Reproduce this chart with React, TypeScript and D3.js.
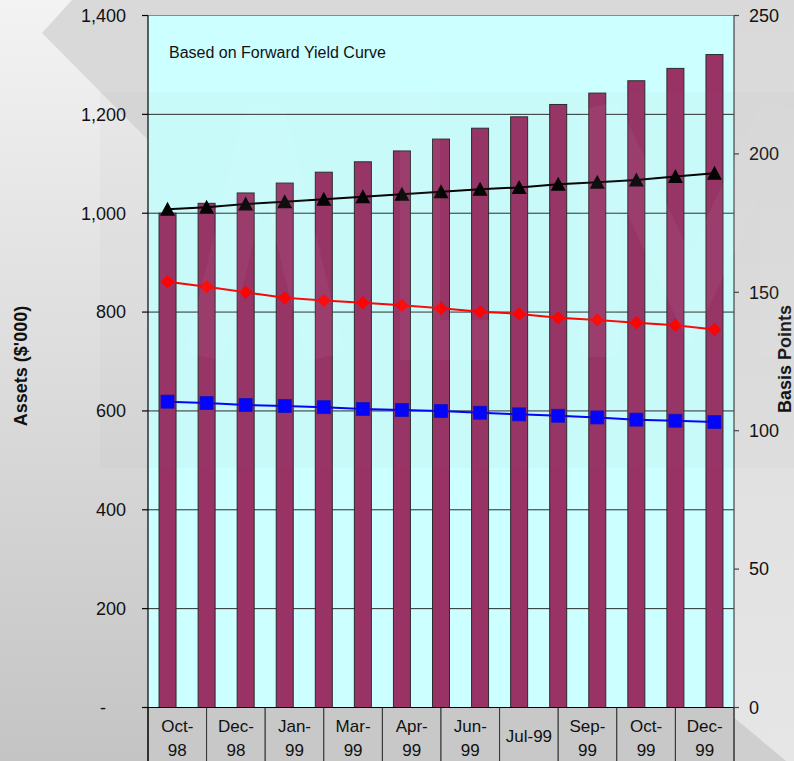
import React from "react";
import * as d3 from "d3";

// Monthly projection, Oct-98 to Dec-99
const months = [
  "Oct-98", "Nov-98", "Dec-98", "Jan-99", "Feb-99", "Mar-99", "Apr-99", "May-99",
  "Jun-99", "Jul-99", "Aug-99", "Sep-99", "Oct-99", "Nov-99", "Dec-99",
];
// Assets ($'000), left axis
const assets = [1000, 1020, 1041, 1061, 1083, 1104, 1126, 1150, 1172, 1195, 1220, 1243, 1268, 1293, 1321];
// Spreads in basis points, right axis
const blackBp = [180.0, 180.7, 181.9, 182.7, 183.6, 184.5, 185.4, 186.3, 187.2, 187.9, 189.0, 189.8, 190.6, 191.8, 193.0];
const redBp = [153.8, 152.0, 150.0, 148.0, 147.0, 146.2, 145.3, 144.2, 143.0, 142.2, 140.8, 140.0, 139.0, 138.1, 136.6];
const blueBp = [110.5, 110.0, 109.3, 108.9, 108.5, 107.8, 107.5, 107.1, 106.5, 105.9, 105.4, 104.8, 104.0, 103.6, 103.1];
// Category labels printed under the plot
const axisLabels = [
  ["Oct-", "98"], ["Dec-", "98"], ["Jan-", "99"], ["Mar-", "99"], ["Apr-", "99"],
  ["Jun-", "99"], ["Jul-99"], ["Sep-", "99"], ["Oct-", "99"], ["Dec-", "99"],
];
const leftTicks = [0, 200, 400, 600, 800, 1000, 1200, 1400];
const rightTicks = [0, 50, 100, 150, 200, 250];

const W = 794;
const H = 761;
const L = 148;
const R = 734;
const T = 15.5;
const B = 707.5;
const FONT = "'Liberation Sans', Arial, sans-serif";

export default function App() {
  const x = d3.scaleBand<string>().domain(months).range([L, R]).paddingInner(0.565).paddingOuter(0.2825);
  const xLab = d3.scaleBand<number>().domain(axisLabels.map((_, i) => i)).range([L, R]);
  const yL = d3.scaleLinear().domain([0, 1400]).range([B, T]);
  const yR = d3.scaleLinear().domain([0, 250]).range([B, T]);
  const cx = (i: number) => (x(months[i]) as number) + x.bandwidth() / 2;
  const fmt = d3.format(",");

  const line = d3
    .line<number>()
    .x((_, i) => cx(i))
    .y((d) => yR(d));

  const tri = "M0,-7.5L7.5,6.5L-7.5,6.5Z";
  const diamond = "M0,-6.8L6.8,0L0,6.8L-6.8,0Z";

  return (
    <svg
      width={W}
      height={H}
      style={{ position: "absolute", left: 0, top: 0, display: "block" }}
      fontFamily={FONT}
    >
      <defs>
        <linearGradient id="leftBg" x1="0" y1="0" x2="0" y2="1">
          <stop offset="0" stopColor="#f3f3f3" />
          <stop offset="1" stopColor="#c4c4c4" />
        </linearGradient>
        <linearGradient id="rightBg" x1="0" y1="0" x2="0" y2="1">
          <stop offset="0" stopColor="#d9d9d9" />
          <stop offset="1" stopColor="#e6e6e6" />
        </linearGradient>
      </defs>

      {/* page background */}
      <rect x={0} y={0} width={W} height={H} fill="#d9d9d9" />
      <polygon points={`0,0 72,0 42,33 148,140 148,${H} 0,${H}`} fill="url(#leftBg)" />
      <rect x={R} y={0} width={W - R} height={H} fill="url(#rightBg)" />
      <polygon points={`722,${B} 786,${H} 722,${H}`} fill="#cfcfcf" />

      {/* plot area */}
      <rect x={L} y={T} width={R - L} height={B - T} fill="#ccffff" />
      <line x1={L} x2={R} y1={T} y2={T} stroke="#8a8a8a" strokeWidth={1} />

      {/* gridlines */}
      {leftTicks
        .filter((v) => v > 0 && v < 1400)
        .map((v) => (
          <line key={`g${v}`} x1={L} x2={R} y1={yL(v)} y2={yL(v)} stroke="#2a2a2a" strokeWidth={1} />
        ))}

      {/* asset bars */}
      {assets.map((v, i) => (
        <rect
          key={`b${i}`}
          x={x(months[i])}
          y={yL(v)}
          width={x.bandwidth()}
          height={B - yL(v)}
          fill="#993366"
          stroke="#2b2b2b"
          strokeWidth={1}
        />
      ))}

      {/* spread lines */}
      <path d={line(blackBp) || ""} fill="none" stroke="#000000" strokeWidth={2} />
      <path d={line(redBp) || ""} fill="none" stroke="#ff0000" strokeWidth={2} />
      <path d={line(blueBp) || ""} fill="none" stroke="#0000ff" strokeWidth={2} />
      {blackBp.map((v, i) => (
        <path key={`t${i}`} d={tri} transform={`translate(${cx(i)},${yR(v)})`} fill="#000000" />
      ))}
      {redBp.map((v, i) => (
        <path key={`d${i}`} d={diamond} transform={`translate(${cx(i)},${yR(v)})`} fill="#ff0000" />
      ))}
      {blueBp.map((v, i) => (
        <rect key={`s${i}`} x={cx(i) - 6.5} y={yR(v) - 6.5} width={13} height={13} fill="#0000ff" stroke="#1010c0" strokeWidth={0.8} />
      ))}

      {/* title inside plot */}
      <text x={169} y={58} fontSize={16} fill="#111">
        Based on Forward Yield Curve
      </text>

      {/* category label boxes */}
      {axisLabels.map((lab, i) => {
        const x0 = xLab(i) as number;
        const mid = x0 + xLab.bandwidth() / 2;
        return (
          <g key={`c${i}`}>
            <rect x={x0} y={B} width={xLab.bandwidth()} height={H - B + 2} fill="#c8c8c8" stroke="#333" strokeWidth={1} />
            {lab.length === 2 ? (
              <text x={mid} textAnchor="middle" fontSize={17} fill="#111">
                <tspan x={mid} y={731.5}>{lab[0]}</tspan>
                <tspan x={mid} y={756}>{lab[1]}</tspan>
              </text>
            ) : (
              <text x={mid} y={742} textAnchor="middle" fontSize={17} fill="#111">
                {lab[0]}
              </text>
            )}
          </g>
        );
      })}

      {/* left axis */}
      <line x1={L} x2={L} y1={T} y2={H} stroke="#000" strokeWidth={1.2} />
      {leftTicks.map((v) => (
        <g key={`l${v}`}>
          <line x1={L - 6} x2={L} y1={yL(v)} y2={yL(v)} stroke="#000" strokeWidth={1.2} />
          <text
            x={v === 0 ? 106 : 126}
            y={yL(v)}
            dy="0.35em"
            textAnchor="end"
            fontSize={18}
            fill="#111"
          >
            {v === 0 ? "-" : fmt(v)}
          </text>
        </g>
      ))}
      <line x1={L - 6} x2={R + 5} y1={B} y2={B} stroke="#000" strokeWidth={1.2} />

      {/* right axis */}
      <line x1={R} x2={R} y1={T} y2={H} stroke="#444" strokeWidth={1.2} />
      {rightTicks.map((v) => (
        <g key={`r${v}`}>
          <line x1={R} x2={R + 5} y1={yR(v)} y2={yR(v)} stroke="#444" strokeWidth={1.2} />
          <text x={749} y={yR(v)} dy="0.35em" fontSize={18} fill="#111">
            {v}
          </text>
        </g>
      ))}

      {/* axis titles */}
      <text
        transform="translate(27,366) rotate(-90)"
        textAnchor="middle"
        fontSize={18}
        fontWeight="bold"
        fill="#111"
      >
        Assets ($'000)
      </text>
      <text
        transform="translate(791,359) rotate(-90)"
        textAnchor="middle"
        fontSize={18}
        fontWeight="bold"
        fill="#111"
      >
        Basis Points
      </text>

      {/* faint logo watermark band */}
      <rect x={100} y={92} width={W - 100} height={376} fill="#7a7a7a" opacity={0.035} />
      <g opacity={0.045} fill="none" stroke="#ffffff" strokeWidth={40}>
        <polyline points="205,357 265,110 325,357" />
        <polyline points="420,92 420,340 500,340" />
        <polyline points="600,357 600,110 690,300 780,110 780,357" />
      </g>
    </svg>
  );
}
